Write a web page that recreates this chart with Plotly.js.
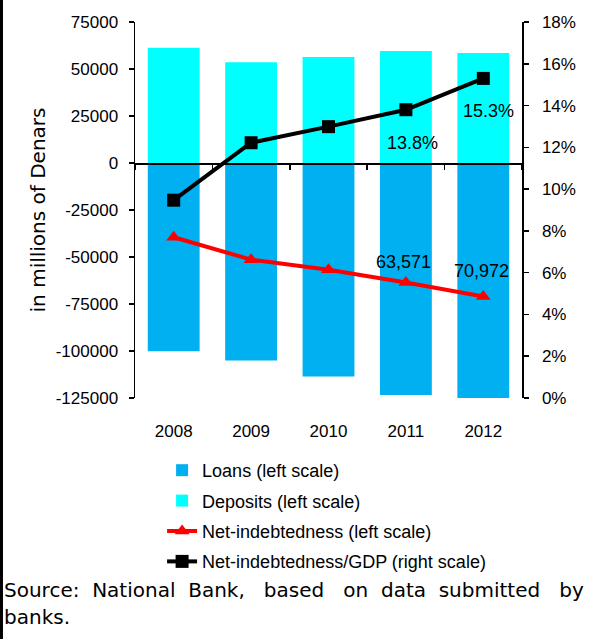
<!DOCTYPE html>
<html>
<head>
<meta charset="utf-8">
<script src="https://cdn.plot.ly/plotly-3.0.1.min.js"></script>
<style>html,body{margin:0;padding:0;background:#fff}#chart{width:590px;height:639px}</style>
</head>
<body>
<div id="chart"></div>
<script>
// ---- data ----
var years = ['2008', '2009', '2010', '2011', '2012'];
var loans = [-100100, -105000, -113600, -123400, -125500];
var deposits = [61300, 53600, 56400, 59600, 58500];
var netIndebtedness = [-39500, -51400, -56800, -63571, -70972];
var netToGdp = [9.47, 12.22, 12.99, 13.8, 15.3];
var netLabelIdx = [3, 4];
var gdpLabelIdx = [3, 4];
var leftTicks = [75000, 50000, 25000, 0, -25000, -50000, -75000, -100000, -125000];
var rightTicks = [0, 2, 4, 6, 8, 10, 12, 14, 16, 18];
var sourceLines = ['Source:  National  Bank,   based   on  data  submitted   by', 'banks.'];

var SANS = '"Liberation Sans", Arial, sans-serif';
var WIDE = '"DejaVu Sans", Verdana, sans-serif';

var traces = [
  {type: 'bar', name: 'Loans (left scale)', legendgroup: 'a', x: years, y: loans, marker: {color: '#00B0F0'},
   xaxis: 'x', yaxis: 'y', hoverinfo: 'skip'},
  {type: 'bar', name: 'Deposits (left scale)', legendgroup: 'b', x: years, y: deposits, marker: {color: '#00FFFF'},
   xaxis: 'x', yaxis: 'y', hoverinfo: 'skip'},
  {type: 'scatter', mode: 'lines+markers', name: 'Net-indebtedness (left scale)', legendgroup: 'c', x: years, y: netIndebtedness,
   line: {color: '#FF0000', width: 4}, marker: {symbol: 'triangle-up', size: 13, color: '#FF0000'},
   xaxis: 'x', yaxis: 'y', hoverinfo: 'skip'},
  {type: 'scatter', mode: 'lines+markers', name: 'Net-indebtedness/GDP (right scale)', legendgroup: 'd', x: years, y: netToGdp,
   line: {color: '#000000', width: 4}, marker: {symbol: 'square', size: 13, color: '#000000'},
   xaxis: 'x2', yaxis: 'y2', hoverinfo: 'skip'}
];

var annotations = [];
netLabelIdx.forEach(function (i) {
  annotations.push({x: i, y: netIndebtedness[i], xref: 'x', yref: 'y', showarrow: false,
    text: Math.abs(netIndebtedness[i]).toLocaleString('en-US'), yshift: (i === 3 ? 21 : 25), xshift: -2,
    font: {family: SANS, size: 18, color: '#000'}});
});
gdpLabelIdx.forEach(function (i) {
  annotations.push({x: i, y: netToGdp[i], xref: 'x2', yref: 'y2', showarrow: false,
    text: netToGdp[i].toFixed(1) + '%', yshift: -33, xshift: (i === 3 ? 7 : 5),
    font: {family: SANS, size: 18, color: '#000'}});
});
annotations.push({xref: 'paper', yref: 'paper', x: -0.3437, y: -0.5106, xanchor: 'left', yanchor: 'middle',
  align: 'left', showarrow: false, text: sourceLines[0],
  font: {family: WIDE, size: 20, color: '#000'}});
annotations.push({xref: 'paper', yref: 'paper', x: -0.3437, y: -0.5824, xanchor: 'left', yanchor: 'middle',
  align: 'left', showarrow: false, text: sourceLines[1],
  font: {family: WIDE, size: 20, color: '#000'}});

var yMin = -125000, yMax = 75000;
var layout = {
  width: 590, height: 639,
  margin: {l: 135, r: 68, t: 22, b: 241, pad: 0},
  paper_bgcolor: '#fff', plot_bgcolor: '#fff',
  barmode: 'relative', bargap: 0.33,
  font: {family: SANS, size: 17, color: '#000'},
  showlegend: true,
  legend: {x: 0.07, y: -0.1436, xanchor: 'left', yanchor: 'top', traceorder: 'grouped', tracegroupgap: 4,
    font: {family: SANS, size: 18, color: '#000'}, bgcolor: 'rgba(0,0,0,0)', itemwidth: 30},
  xaxis: {type: 'category', categoryarray: years, range: [-0.5, 4.5], showline: false, ticks: '',
    showgrid: false, zeroline: false, ticklabelstandoff: 21, tickfont: {family: SANS, size: 17}},
  xaxis2: {type: 'category', categoryarray: years, range: [-0.5, 4.5], overlaying: 'x', anchor: 'free',
    position: (0 - yMin) / (yMax - yMin), showline: true, linecolor: '#000', linewidth: 1.5,
    ticks: 'outside', tickson: 'boundaries', ticklen: 5, tickcolor: '#000', tickwidth: 1.5,
    showticklabels: false, showgrid: false, zeroline: false},
  yaxis: {range: [yMin, yMax], tickvals: leftTicks, ticktext: leftTicks.map(String),
    showline: true, linecolor: '#000', linewidth: 1.5, ticks: 'outside', ticklen: 5, tickcolor: '#000', tickwidth: 1.5,
    showgrid: false, zeroline: false, ticklabelstandoff: 7, tickfont: {family: SANS, size: 17},
    title: {text: 'in millions of Denars', font: {family: WIDE, size: 20, color: '#000'}, standoff: 4}},
  yaxis2: {range: [0, 18], tickvals: rightTicks, ticktext: rightTicks.map(function (v) { return v + '%'; }),
    overlaying: 'y', side: 'right', anchor: 'x',
    showline: true, linecolor: '#000', linewidth: 1.5, ticks: 'outside', ticklen: 5, tickcolor: '#000', tickwidth: 1.5,
    showgrid: false, zeroline: false, ticklabelstandoff: 10, tickfont: {family: SANS, size: 17}},
  annotations: annotations,
  shapes: [{type: 'line', xref: 'paper', yref: 'paper', x0: -0.345, x1: -0.345, y0: -0.65, y1: 1.07,
    line: {color: '#000', width: 3}}]
};

Plotly.newPlot('chart', traces, layout, {displayModeBar: false, staticPlot: true});
</script>
</body>
</html>
